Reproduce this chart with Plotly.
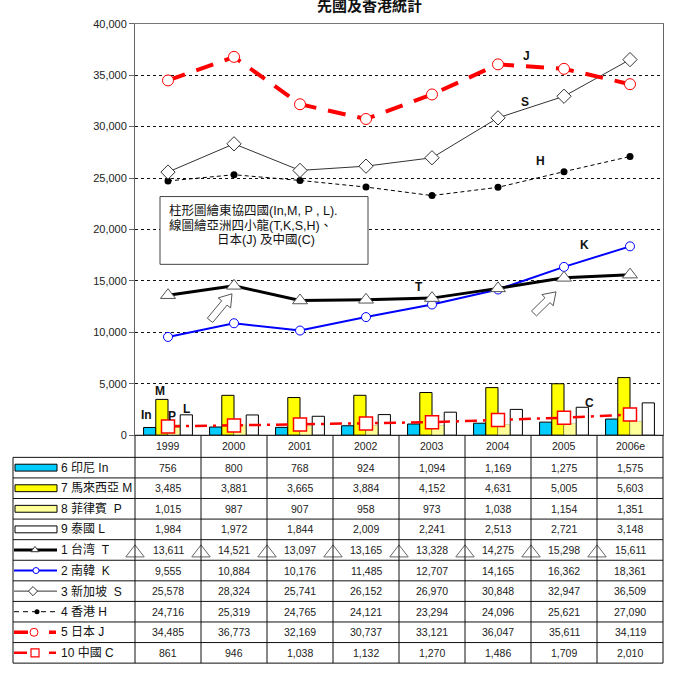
import plotly.graph_objects as go
import numpy as np

W, H = 680, 677

# ---------------- data ----------------
years = ['1999', '2000', '2001', '2002', '2003', '2004', '2005', '2006e']
indonesia = [756, 800, 768, 924, 1094, 1169, 1275, 1575]
malaysia = [3485, 3881, 3665, 3884, 4152, 4631, 5005, 5603]
philippines = [1015, 987, 907, 958, 973, 1038, 1154, 1351]
thailand = [1984, 1972, 1844, 2009, 2241, 2513, 2721, 3148]
taiwan = [13611, 14521, 13097, 13165, 13328, 14275, 15298, 15611]
korea = [9555, 10884, 10176, 11485, 12707, 14165, 16362, 18361]
singapore = [25578, 28324, 25741, 26152, 26970, 30848, 32947, 36509]
hongkong = [24716, 25319, 24765, 24121, 23294, 24096, 25621, 27090]
japan = [34485, 36773, 32169, 30737, 33121, 36047, 35611, 34119]
china = [861, 946, 1038, 1132, 1270, 1486, 1709, 2010]

row_labels = ['6 印尼 In', '7 馬來西亞 M', '8 菲律賓  P', '9 泰國 L', '1 台湾  T',
              '2 南韓  K', '3 新加坡  S', '4 香港 H', '5 日本 J', '10 中國 C']
title_text = '先國及香港統計'
note_lines = ['柱形圖繪東協四國(In,M, P , L).', '線圖繪亞洲四小龍(T,K,S,H)、', '日本(J) 及中國(C)']

# ---------------- geometry (pixels) ----------------
PL, PR, PT, PB = 135, 663, 18, 437
ROW_TOP, ROW_BOT = 459.5, 669
LEG_L = 13
FONT = 'Liberation Sans, Arial, Noto Sans CJK TC'

fig = go.Figure()

bar_specs = [
    (indonesia, '#00CCFF', 'black', 1),
    (malaysia, '#FFFF00', 'black', 1),
    (philippines, '#FFFF99', '#bdbd80', 0.6),
    (thailand, '#FFFFFF', 'black', 1),
]
for vals, col, lc, lw in bar_specs:
    fig.add_trace(go.Bar(x=years, y=vals, marker=dict(color=col, line=dict(color=lc, width=lw)),
                         xaxis='x', yaxis='y', hoverinfo='skip'))

line_specs = {
    'T': (taiwan, dict(color='black', width=3), dict(symbol='triangle-up', size=13, color='white', line=dict(color='#555', width=1))),
    'K': (korea, dict(color='#0000FF', width=2), dict(symbol='circle', size=9, color='white', line=dict(color='#0000FF', width=1))),
    'S': (singapore, dict(color='#333', width=1), dict(symbol='diamond', size=11, color='white', line=dict(color='#333', width=1))),
    'H': (hongkong, dict(color='black', width=1, dash='4px,3px'), dict(symbol='circle', size=7, color='black')),
    'J': (japan, dict(color='#FF0000', width=4, dash='18px,12px'), dict(symbol='circle', size=11, color='white', line=dict(color='#FF0000', width=1))),
    'C': (china, dict(color='#FF0000', width=2.5, dash='12px,6px,3px,6px'), dict(symbol='square', size=13, color='white', line=dict(color='#FF0000', width=1.5))),
}
for key in ['C', 'H', 'S', 'K', 'T', 'J']:
    vals, ln, mk = line_specs[key]
    fig.add_trace(go.Scatter(x=years, y=vals, mode='lines+markers', line=ln, marker=mk,
                             xaxis='x', yaxis='y', hoverinfo='skip'))

shapes = []
annotations = []

# ---------------- table ----------------
ncol = len(years)
cw = (PR - PL) / ncol
xb = [PL + i * cw for i in range(ncol + 1)]
nrow = len(row_labels)
rh = (ROW_BOT - ROW_TOP) / nrow
LC = '#111'

def seg(x0, y0, x1, y1, color=LC, width=1):
    shapes.append(dict(type='line', xref='x2', yref='y2', x0=x0, y0=y0, x1=x1, y1=y1,
                       line=dict(color=color, width=width), layer='above'))

seg(PL, PB, PR, PB)
seg(LEG_L, ROW_TOP, PR, ROW_TOP)
for i in range(1, nrow + 1):
    seg(LEG_L, ROW_TOP + i * rh, PR, ROW_TOP + i * rh)
seg(LEG_L, ROW_TOP, LEG_L, ROW_BOT)
for x in xb:
    seg(x, PB, x, ROW_BOT)

for j, yr in enumerate(years):
    annotations.append(dict(xref='x2', yref='y2', x=xb[j] + cw / 2, y=(PB + ROW_TOP) / 2, text=yr,
                            showarrow=False, font=dict(family=FONT, size=10.5, color='#222')))

table_values = [indonesia, malaysia, philippines, thailand, taiwan, korea, singapore, hongkong, japan, china]
for i, vals in enumerate(table_values):
    yc = ROW_TOP + (i + 0.5) * rh
    for j, v in enumerate(vals):
        annotations.append(dict(xref='x2', yref='y2', x=xb[j] + cw / 2, y=yc, text=f'{v:,}',
                                showarrow=False, font=dict(family=FONT, size=10.5, color='#222')))
    annotations.append(dict(xref='x2', yref='y2', x=59, y=yc, text=row_labels[i], xanchor='left',
                            showarrow=False, font=dict(family=FONT, size=12, color='#111')))

# legend keys
bar_cols = ['#00CCFF', '#FFFF00', '#FFFF99', '#FFFFFF']
for i, col in enumerate(bar_cols):
    yc = ROW_TOP + (i + 0.5) * rh
    shapes.append(dict(type='rect', xref='x2', yref='y2', x0=15, x1=57, y0=yc - 3.5, y1=yc + 3.5,
                       fillcolor=col, line=dict(color='black', width=1), layer='above'))

key_specs = [
    ('T', dict(color='black', width=3), dict(symbol='triangle-up', size=7, color='white', line=dict(color='#333', width=1)), 35),
    ('K', dict(color='#0000FF', width=2), dict(symbol='circle', size=6, color='white', line=dict(color='#0000FF', width=1)), 36),
    ('S', dict(color='#333', width=1), dict(symbol='diamond', size=7, color='white', line=dict(color='#333', width=1)), 33),
    ('H', dict(color='black', width=1, dash='5px,4px'), dict(symbol='circle', size=5, color='black'), 37),
    ('J', dict(color='#FF0000', width=3.5, dash='14px,21px,7px'), dict(symbol='circle', size=8, color='white', line=dict(color='#FF0000', width=1)), 34),
    ('C', dict(color='#FF0000', width=2.5, dash='13px,22px,7px'), dict(symbol='square', size=8, color='white', line=dict(color='#FF0000', width=1.2)), 35),
]
for k, (key, ln, mk, mx) in enumerate(key_specs):
    yc = ROW_TOP + (k + 4.5) * rh
    fig.add_trace(go.Scatter(x=[14, 57], y=[yc, yc], mode='lines', line=ln, xaxis='x2', yaxis='y2', hoverinfo='skip'))
    fig.add_trace(go.Scatter(x=[mx], y=[yc], mode='markers', marker=mk, xaxis='x2', yaxis='y2', hoverinfo='skip'))

# triangles sitting in the T row of the table
t_row = 4
fig.add_trace(go.Scatter(x=xb[:-1], y=[ROW_TOP + (t_row + 0.5) * rh + 3] * ncol, mode='markers',
                         marker=dict(symbol='triangle-up', size=16, color='white', line=dict(color='#666', width=1)),
                         xaxis='x2', yaxis='y2', hoverinfo='skip'))

# ---------------- text box ----------------
shapes.append(dict(type='rect', xref='x2', yref='y2', x0=160, x1=368, y0=194, y1=263,
                   fillcolor='white', line=dict(color='#444', width=1), layer='above'))
annotations.append(dict(xref='x2', yref='y2', x=167, y=208, text=note_lines[0], xanchor='left', showarrow=False,
                        font=dict(family=FONT, size=12.5, color='#111')))
annotations.append(dict(xref='x2', yref='y2', x=167, y=223, text=note_lines[1], xanchor='left', showarrow=False,
                        font=dict(family=FONT, size=12.5, color='#111')))
annotations.append(dict(xref='x2', yref='y2', x=266, y=238, text=note_lines[2], xanchor='center', showarrow=False,
                        font=dict(family=FONT, size=12.5, color='#111')))

# ---------------- block arrows ----------------
def block_arrow(x0, y0, x1, y1, shaft=7, head=16, headlen=12):
    p0, p1 = np.array([x0, y0], float), np.array([x1, y1], float)
    u = (p1 - p0) / np.linalg.norm(p1 - p0)
    n = np.array([-u[1], u[0]])
    neck = p1 - u * headlen
    pts = [p0 + n * shaft / 2, neck + n * shaft / 2, neck + n * head / 2, p1,
           neck - n * head / 2, neck - n * shaft / 2, p0 - n * shaft / 2]
    path = 'M ' + ' L '.join(f'{p[0]:.1f},{p[1]:.1f}' for p in pts) + ' Z'
    shapes.append(dict(type='path', xref='x2', yref='y2', path=path, fillcolor='white',
                       line=dict(color='#555', width=1), layer='above'))

block_arrow(210, 320, 232, 293)
block_arrow(534, 313, 556, 291)

# ---------------- series labels ----------------
lab = [('J', 526, 51), ('S', 525, 98), ('H', 540, 158), ('K', 584, 243), ('T', 419, 286),
       ('In', 146, 416), ('M', 160, 392), ('P', 172, 417), ('L', 186, 410), ('C', 589, 404)]
for t, x, y in lab:
    annotations.append(dict(xref='x2', yref='y2', x=x, y=y, text=f'<b>{t}</b>', showarrow=False,
                            font=dict(family=FONT, size=12, color='#111')))

# title (cropped at the top edge, like the reference)
annotations.append(dict(xref='x2', yref='y2', x=369, y=11, text=f'<b>{title_text}</b>', showarrow=False,
                        yanchor='bottom', font=dict(family='Noto Sans CJK TC', size=15, color='#111')))

fig.update_layout(
    width=W, height=H, margin=dict(l=0, r=0, t=0, b=0),
    paper_bgcolor='white', plot_bgcolor='rgba(0,0,0,0)',
    showlegend=False, barmode='group', bargap=0.26, bargroupgap=0,
    font=dict(family=FONT, size=11, color='#222'),
    xaxis=dict(domain=[PL / W, PR / W], type='category', range=[-0.5, 7.5], showticklabels=False,
               showgrid=False, zeroline=False, showline=True, linecolor='#777', mirror=True, ticks='',
               anchor='y', fixedrange=True),
    yaxis=dict(domain=[1 - PB / H, 1 - PT / H], range=[0, 40000], tickvals=list(range(0, 40001, 5000)),
               tickformat=',d', showgrid=True, gridcolor='#111', griddash='3px,3px', gridwidth=1,
               zeroline=False, showline=True, linecolor='#666', mirror=True, ticks='outside', ticklen=5,
               tickcolor='#666', tickfont=dict(family=FONT, size=11, color='#222'), anchor='x', fixedrange=True),
    xaxis2=dict(domain=[0, 1], range=[0, W], visible=False, anchor='y2', fixedrange=True),
    yaxis2=dict(domain=[0, 1], range=[H, 0], visible=False, anchor='x2', fixedrange=True),
    shapes=shapes, annotations=annotations,
)

fig.write_html('out.html', config={'displayModeBar': False},
               post_script="document.body.style.margin='0';document.body.style.overflow='hidden';")
